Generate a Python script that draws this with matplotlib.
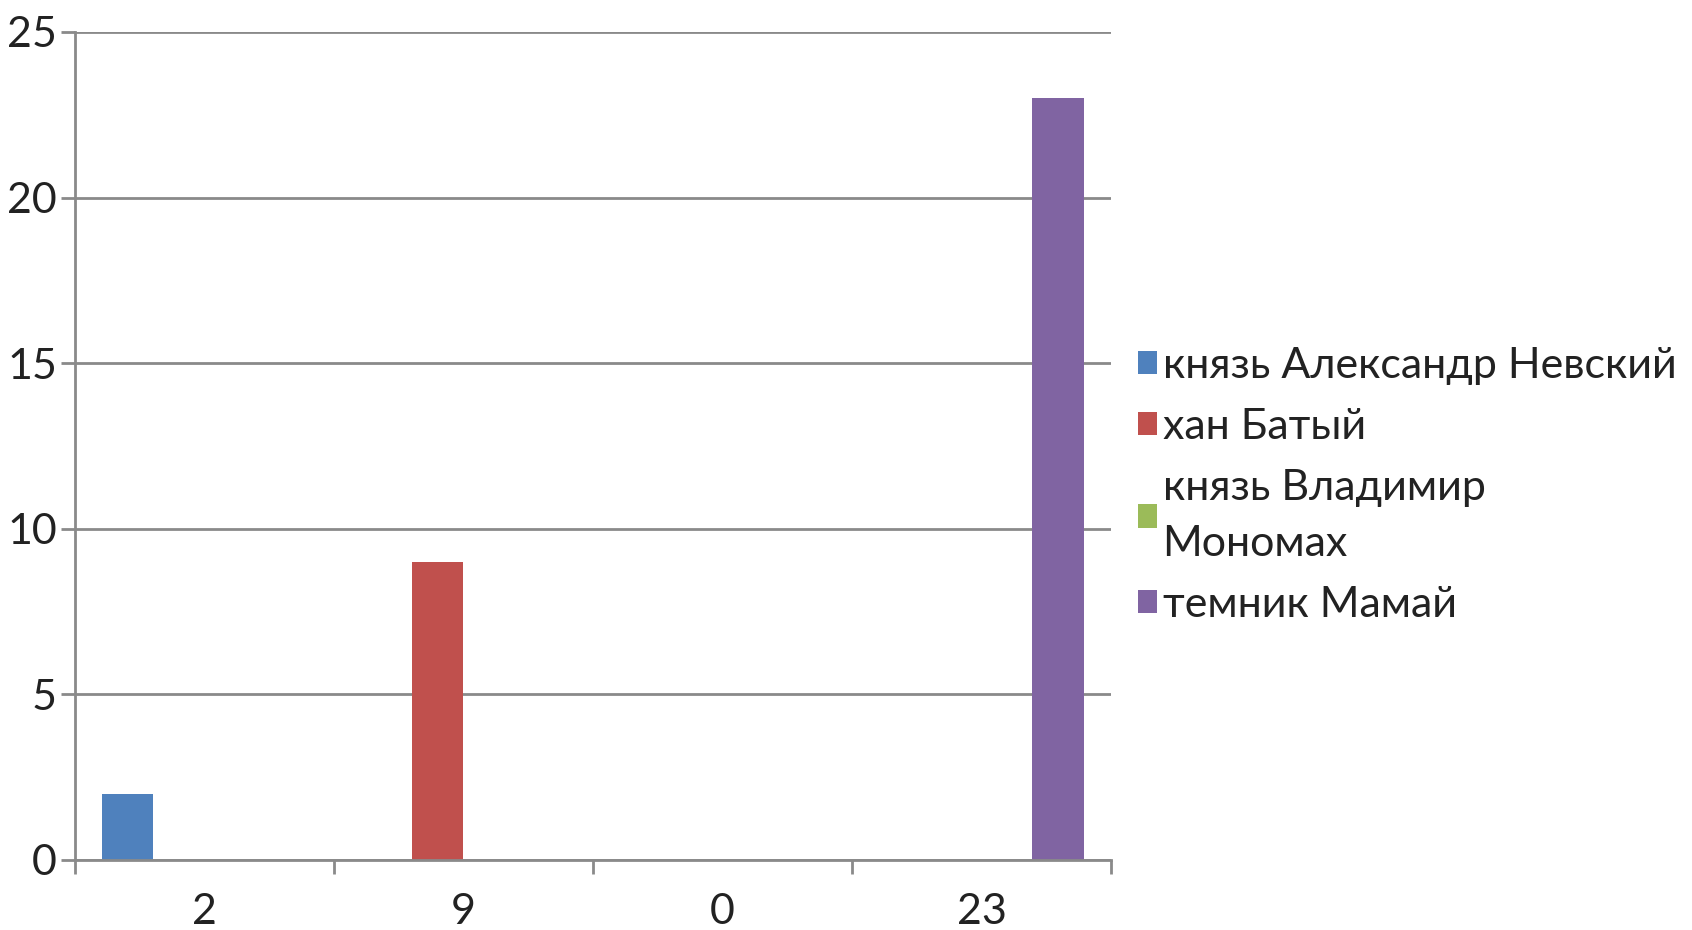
import matplotlib

matplotlib.use("Agg")

import matplotlib.pyplot as plt
from matplotlib.patches import Patch
import numpy as np

categories = ["2", "9", "0", "23"]
series_names = [
    "князь Александр Невский",
    "хан Батый",
    "князь Владимир\nМономах",
    "темник Мамай",
]
series_values = [
    [2, 0, 0, 0],
    [0, 9, 0, 0],
    [0, 0, 0, 0],
    [0, 0, 0, 23],
]
colors = ["#4F81BD", "#C0504D", "#9BBB59", "#8064A2"]
y_ticks = [0, 5, 10, 15, 20, 25]

plt.rcParams["font.family"] = ["Lato", "DejaVu Sans"]
grid_color = "#8a8a8a"
fs = 31

fig = plt.figure(figsize=(16.92, 9.30), dpi=100)
ax = fig.add_axes([0.0443, 0.0753, 0.6123, 0.8903])

x = np.arange(len(categories))
width = 0.197
for i, (name, vals, color) in enumerate(zip(series_names, series_values, colors)):
    ax.bar(x + (i - 1.5) * width, vals, width, color=color, label=name, zorder=3)

ax.set_xlim(-0.5, len(categories) - 0.5)
ax.set_ylim(0, 25)
ax.set_yticks(y_ticks)
ax.set_yticklabels([str(t) for t in y_ticks], fontsize=fs, color="#222222")
ax.set_xticks(x)
ax.set_xticklabels(categories, fontsize=fs, color="#222222")
ax.set_xticks(np.arange(len(categories) + 1) - 0.5, minor=True)
ax.tick_params(axis="x", which="major", length=0, pad=24)
ax.tick_params(axis="x", which="minor", length=10, width=2, color=grid_color)
ax.tick_params(axis="y", length=10, width=2, color=grid_color, pad=3)

ax.yaxis.grid(True, color=grid_color, linewidth=2)
ax.set_axisbelow(True)
for side in ("top", "right"):
    ax.spines[side].set_visible(False)
for side in ("left", "bottom"):
    ax.spines[side].set_color(grid_color)
    ax.spines[side].set_linewidth(2)
    ax.spines[side].set_zorder(4)

handles = [Patch(facecolor=c) for c in colors]
leg = fig.legend(
    handles,
    series_names,
    loc="center left",
    bbox_to_anchor=(0.6726, 0.478),
    frameon=False,
    fontsize=fs,
    handlelength=0.45,
    handleheight=0.45,
    handletextpad=0.12,
    labelspacing=0.53,
    borderaxespad=0,
    borderpad=0,
)
for t in leg.get_texts():
    t.set_linespacing(1.6)
    t.set_color("#222222")

fig.savefig("out.png", dpi=100)
